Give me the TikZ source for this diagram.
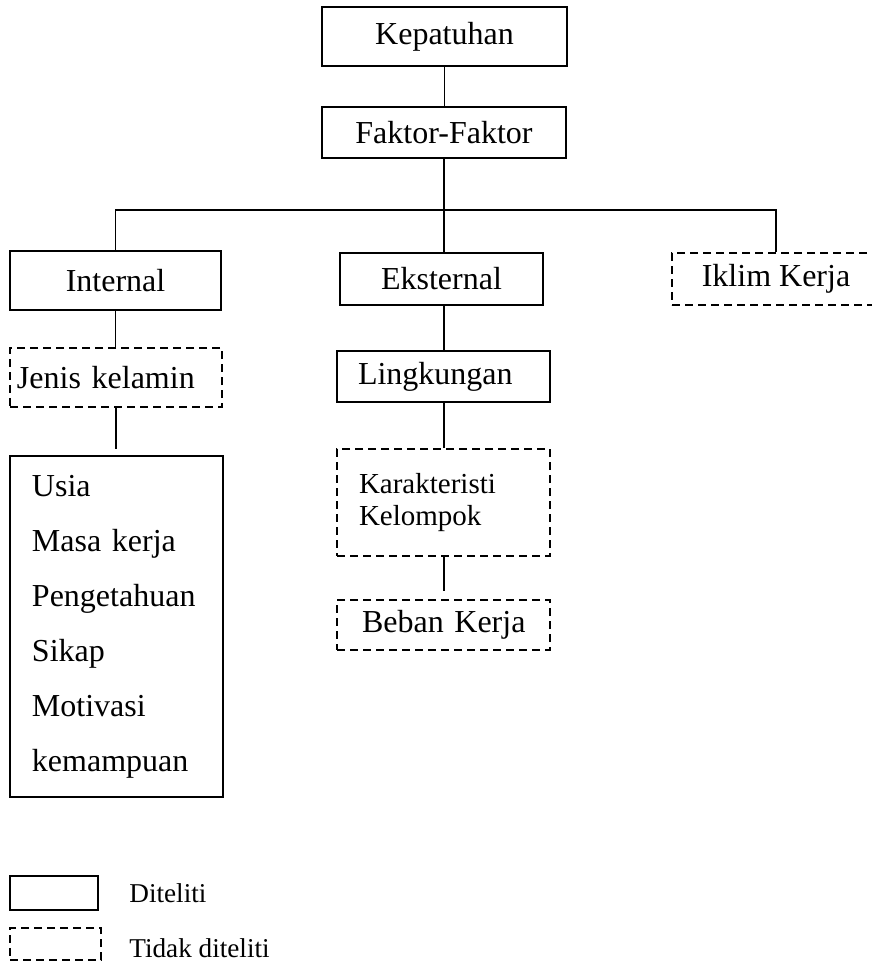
\documentclass[tikz,border=0pt]{standalone}
\usepackage{fontspec}
\setmainfont{Liberation Serif}
\usetikzlibrary{positioning}

\tikzset{
  teliti/.style={draw, line width=1pt, inner sep=0pt, font=\fontsize{16}{19}\selectfont},
  takteliti/.style={teliti, dash pattern=on 4pt off 2.5pt},
  garis/.style={line width=0.6pt},
  legtext/.style={inner sep=0pt, font=\fontsize{13.6}{16}\selectfont},
}

\begin{document}
\begin{tikzpicture}[x=0.5pt, y=-0.5pt]
  \clip (0,0) rectangle (872,964);
  % puncak
  \node[teliti, minimum width=122.5pt, minimum height=29.5pt] (kep) at (444.5,36.5) {Kepatuhan};
  \node[teliti, minimum width=122pt, minimum height=25.5pt] (fak) at (444,132.5) {Faktor-Faktor};
  % tingkat kedua
  \node[teliti, minimum width=105.5pt, minimum height=29.5pt] (int) at (115.5,280.5) {Internal};
  \node[teliti, minimum width=101.5pt, minimum height=26pt] (eks) at (441.5,279) {Eksternal};
  \node[takteliti, minimum width=104pt, minimum height=26pt] (ikl) at (776,279) {Iklim Kerja};
  % cabang internal
  \node[takteliti, minimum height=29.5pt, text width=99pt, inner xsep=3.5pt, align=left] (jen) at (116,377.5) {Jenis kelamin};
  \node[teliti, minimum height=170.5pt, text width=84.5pt, inner xsep=11pt, align=left,
        font=\fontsize{16}{27.5}\selectfont] (lst) at (116.5,626.5)
        {Usia\\Masa kerja\\Pengetahuan\\Sikap\\Motivasi\\kemampuan};
  % cabang eksternal
  \node[teliti, minimum height=25.5pt, text width=85.5pt, inner xsep=10.5pt, align=left] (lin) at (443.5,376.5) {Lingkungan};
  \node[takteliti, minimum height=53.5pt, text width=84.5pt, inner xsep=11pt, align=left,
        font=\fontsize{14.5}{16}\selectfont] (kar) at (443.5,502.5) {Karakteristi\\Kelompok};
  \node[takteliti, minimum height=25pt, text width=81.5pt, inner xsep=12.5pt, align=left] (beb) at (443.5,625) {\mbox{Beban Kerja}};

  % garis penghubung
  \coordinate (bus) at (443,210);
  \draw[garis] (kep.south) -- (kep.south |- fak.north);
  \draw[garis] (fak.south) -- (fak.south |- eks.north);
  \draw[garis] (int.north) |- (bus) -| (ikl.north);
  \draw[garis] (int.south) -- (int.south |- jen.north);
  \draw[garis, shorten >=3pt] (jen.south) -- (jen.south |- lst.north);
  \draw[garis] (fak.south |- eks.south) -- (fak.south |- lin.north);
  \draw[garis] (fak.south |- lin.south) -- (fak.south |- kar.north);
  \draw[garis, shorten >=4pt] (fak.south |- kar.south) -- (fak.south |- beb.north);

  % keterangan
  \node[teliti, minimum width=44pt, minimum height=17pt] (leg1) at (54,893) {};
  \node[takteliti, minimum width=45.5pt, minimum height=16pt] (leg2) at (55.5,944) {};
  \node[legtext, right=15pt of leg1] (ket1) {Diteliti};
  \node[legtext, right=13.5pt of leg2, yshift=-2pt] (ket2) {Tidak diteliti};
\end{tikzpicture}
\end{document}
